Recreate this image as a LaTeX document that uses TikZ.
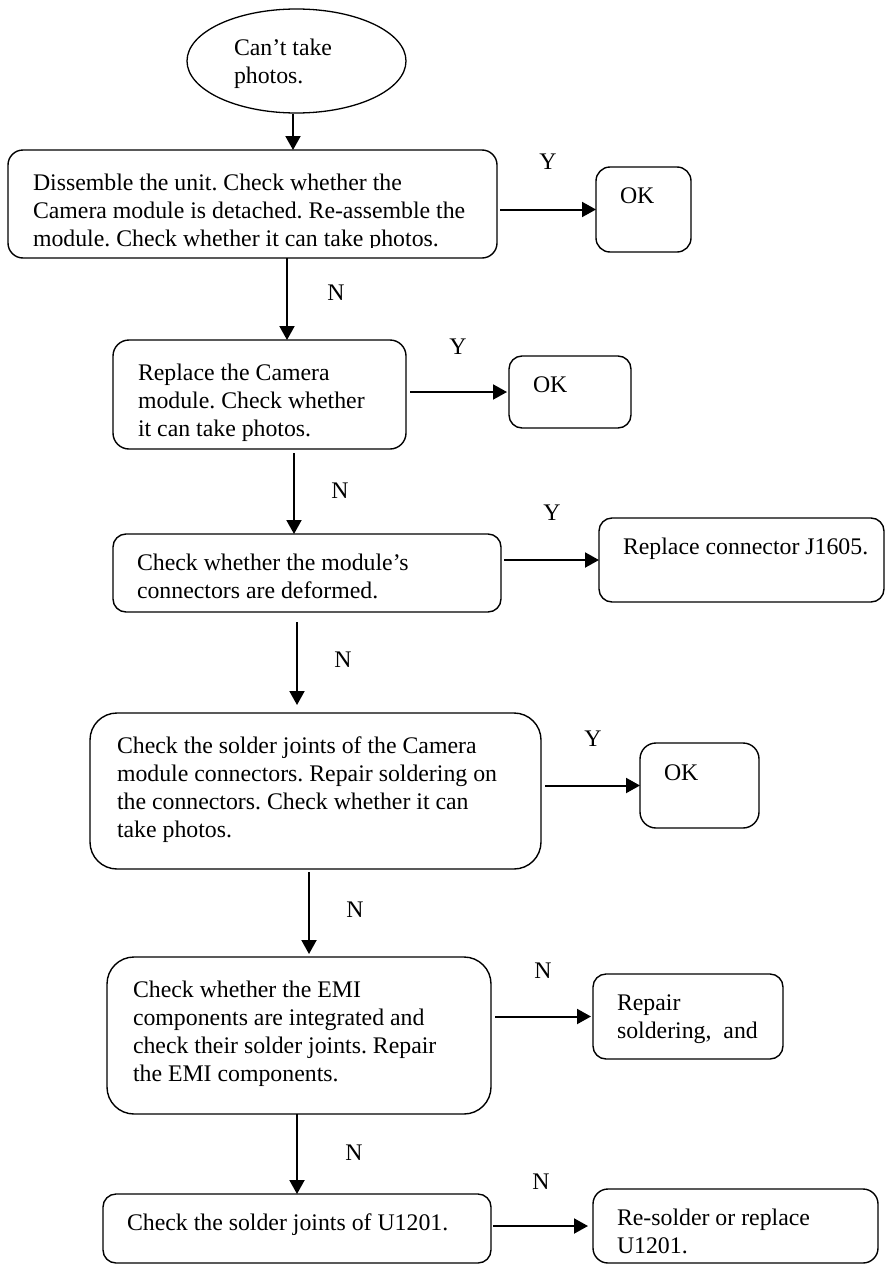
\documentclass[tikz,border=0pt]{standalone}
\usepackage{fontspec}
\setmainfont{Liberation Serif}
\usetikzlibrary{arrows.meta,shapes.geometric}
\newcommand\flowfont{\fontsize{23.8}{28}\selectfont\frenchspacing}

\begin{document}
\begin{tikzpicture}[x=1pt,y=-1pt,
  box/.style={draw, line width=1.4pt, rounded corners=13pt, inner sep=0pt, outer sep=0pt, anchor=north west},
  txt/.style={anchor=north west, inner sep=0pt, outer sep=0pt, align=left, font=\flowfont},
  lbl/.style={inner sep=0pt, font=\flowfont},
  arr/.style={line width=2pt, -{Triangle[length=14pt,width=15pt]}},
]
\useasboundingbox (0,0) rectangle (885,1266);

% start terminal
\node[draw, ellipse, line width=1.3pt, inner sep=0pt, outer sep=0pt,
      minimum width=219pt, minimum height=104pt] (start) at (296.5,61) {};
\node[txt] (t0) at (234,35.4) {\strut Can’t take\\photos.};

% boxes: main column
\node[box, minimum width=489pt, minimum height=108pt, rounded corners=15pt] (box1) at (8,150) {};
\node[box, minimum width=293pt, minimum height=109pt, rounded corners=16pt] (box2) at (113,340) {};
\node[box, minimum width=388pt, minimum height=78pt] (box3) at (113,534) {};
\node[box, minimum width=451pt, minimum height=156pt, rounded corners=27pt] (box4) at (90,713) {};
\node[box, minimum width=384pt, minimum height=157pt, rounded corners=27pt] (box5) at (107,957) {};
\node[box, minimum width=388pt, minimum height=69pt] (box6) at (103,1194) {};

% boxes: outcomes
\node[box, minimum width=95pt, minimum height=85pt, rounded corners=14pt] (ok1) at (596,167) {};
\node[box, minimum width=122pt, minimum height=72pt] (ok2) at (509,356) {};
\node[box, minimum width=285pt, minimum height=84pt] (jbox) at (599,518) {};
\node[box, minimum width=119pt, minimum height=85pt, rounded corners=16pt] (ok3) at (640,743) {};
\node[box, minimum width=190pt, minimum height=85pt] (rbox) at (593,974) {};
\node[box, minimum width=285pt, minimum height=74pt, rounded corners=15pt] (sbox) at (593,1189) {};

% box texts
\begin{scope}
  \clip (8,150) rectangle (497,247);
  \node[txt] (t1) at (33,170.4) {\strut Dissemble the unit. Check whether the\\Camera module is detached. Re-assemble the\\module. Check whether it can take photos.};
\end{scope}
\node[txt] (t2) at (138,360.4) {\strut Replace the Camera\\module. Check whether\\it can take photos.};
\node[txt] (t3) at (137,550.4) {\strut Check whether the module’s\\connectors are deformed.};
\node[txt] (t4) at (117,733.4) {\strut Check the solder joints of the Camera\\module connectors. Repair soldering on\\the connectors. Check whether it can\\take photos.};
\node[txt] (t5) at (133,977.4) {\strut Check whether the EMI\\components are integrated and\\check their solder joints. Repair\\the EMI components.};
\node[txt] (t6) at (127,1210.4) {\strut Check the solder joints of U1201.};

\node[txt] (tok1) at (620,183.4) {\strut OK};
\node[txt] (tok2) at (533,372.4) {\strut OK};
\node[txt] (tj) at (623,534.4) {\strut Replace connector J1605.};
\node[txt] (tok3) at (664,760.4) {\strut OK};
\node[txt] (tr) at (617,990.4) {\strut Repair\\soldering,~ and};
\node[txt] (ts) at (617,1205.4) {\strut Re-solder or replace\\U1201.};

% columns of the downward connectors
\coordinate (c0) at (293,0);
\coordinate (c1) at (287,0);
\coordinate (c2) at (294,0);
\coordinate (c3) at (297,0);
\coordinate (c4) at (309,0);

% downward connectors
\draw[arr, shorten <=1pt] (start.south -| c0) -- (box1.north -| c0);
\draw[arr] (box1.south -| c1) -- (box2.north -| c1);
\draw[arr, shorten <=4pt] (box2.south -| c2) -- (box3.north -| c2);
\draw[arr, shorten <=10pt, shorten >=8pt] (box3.south -| c3) -- (box4.north -| c3);
\draw[arr, shorten <=3pt, shorten >=3pt] (box4.south -| c4) -- (box5.north -| c4);
\draw[arr] (box5.south -| box6.north) -- (box6.north);

% sideways connectors
\draw[arr, shorten <=3pt] (box1.east |- ok1.west) -- (ok1.west);
\draw[arr, shorten <=4pt, shorten >=2pt] (box2.east |- ok2.west) -- (ok2.west);
\draw[arr, shorten <=3pt] (box3.east |- jbox.west) -- (jbox.west);
\draw[arr, shorten <=4pt] (box4.east |- ok3.west) -- (ok3.west);
\draw[arr, shorten <=4pt, shorten >=2pt] (box5.east |- rbox.west) -- (rbox.west);
\draw[arr, shorten <=2pt, shorten >=5pt] (box6.east |- sbox.west) -- (sbox.west);

% branch labels
\node[lbl] (ly1) at (548,162) {Y};
\node[lbl] (ln1) at (336,293) {N};
\node[lbl] (ly2) at (458,347) {Y};
\node[lbl] (ln2) at (340,491) {N};
\node[lbl] (ly3) at (552,513) {Y};
\node[lbl] (ln3) at (343,660) {N};
\node[lbl] (ly4) at (593,739) {Y};
\node[lbl] (ln4) at (355,910) {N};
\node[lbl] (ln5) at (543,971) {N};
\node[lbl] (ln6) at (354,1153) {N};
\node[lbl] (ln7) at (541,1182) {N};
\end{tikzpicture}
\end{document}
